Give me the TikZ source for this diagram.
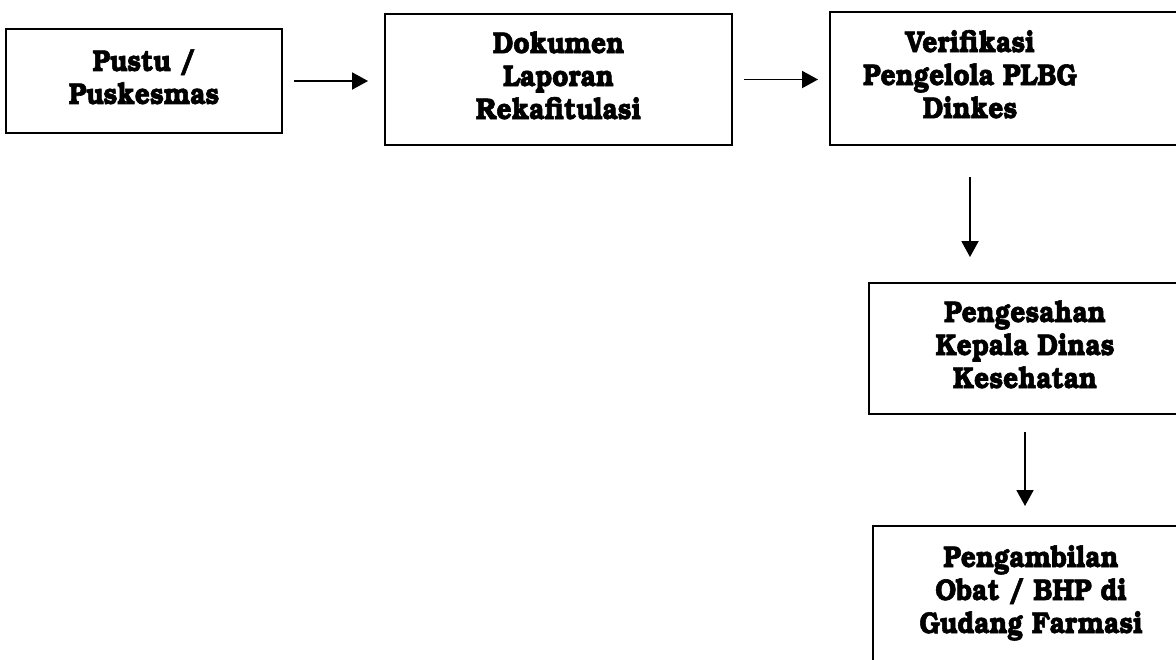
\documentclass[tikz,border=0pt]{standalone}
\usepackage[T1]{fontenc}
\usepackage{bookman}
\usepackage{graphicx}
\usetikzlibrary{arrows.meta, positioning}

% heavier, slightly narrowed lines of box text
\newcommand{\boxlines}[1]{\special{pdf:literal direct q 2 Tr 0.6 w}%
  \scalebox{0.88}[1]{\begin{tabular}{@{}c@{}}#1\end{tabular}}%
  \special{pdf:literal direct Q}}

\begin{document}
\begin{tikzpicture}[
  x=1pt, y=-1pt,
  font=\fontsize{30}{33}\selectfont\bfseries,
  box/.style={draw, rectangle, line width=1.9pt, align=center,
              minimum height=131pt, inner sep=6pt},
  frame/.style={line width=1.9pt},
  arr/.style={-{Triangle[length=16pt,width=17pt]}, line width=1.9pt}
]
\useasboundingbox (0,0) rectangle (1176,659);
\clip (0,0) rectangle (1176,659);

% Top row
\node[box, minimum width=276pt, minimum height=104pt] (pustu) at (144,81)
  {\boxlines{Pustu /\\Puskesmas}\\[-6pt]\mbox{}};
\node[box, minimum width=347pt] (dok) at (558.5,79.5)
  {\boxlines{Dokumen\\Laporan\\Rekafitulasi}};
\node[box, draw=none, minimum width=278pt] (verif) at (970,78.5)
  {\boxlines{Verifikasi\\Pengelola PLBG\\Dinkes}};
\draw[frame] ([xshift=90pt]verif.north east) -| (verif.south west)
  -- ([xshift=90pt]verif.south east);

% Right column
\node[box, minimum width=312pt] (sah) at (1025,348.5)
  {\boxlines{Pengesahan\\Kepala Dinas\\Kesehatan}};
\node[box, anchor=north, minimum width=316pt, inner ysep=18pt] (ambil) at (1031,525)
  {\boxlines{Pengambilan\\Obat / BHP di\\Gudang Farmasi\\[40pt]\mbox{}}};

% Arrows
\draw[arr, shorten <=11pt, shorten >=16pt] (pustu.east) -- (pustu.east -| dok.west);
\draw[arr, shorten <=11pt, shorten >=12pt] (dok.east) -- (dok.east -| verif.west);
\draw[arr, shorten <=32pt, shorten >=25pt] (verif.south) -- (verif.south |- sah.north);
\draw[arr, shorten <=17pt, shorten >=19pt] (sah.south) -- (sah.south |- ambil.north);

\end{tikzpicture}
\end{document}
